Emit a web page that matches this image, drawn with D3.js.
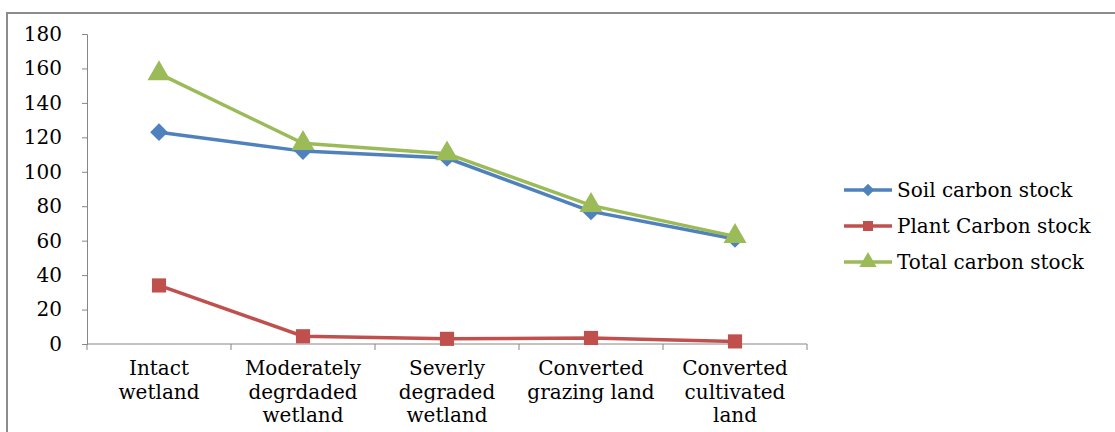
<!DOCTYPE html>
<html>
<head>
<meta charset="utf-8">
<script src="https://cdn.jsdelivr.net/npm/d3@7"></script>
<style>
  body { margin: 0; background: #fff; }
  text { font-family: "DejaVu Serif", "Liberation Serif", serif; }
</style>
</head>
<body>
<svg id="chart" width="1115" height="432"></svg>
<script>

// categories, shown as multi-line labels
var categories = [
    ["Intact", "wetland"],
    ["Moderately", "degrdaded", "wetland"],
    ["Severly", "degraded", "wetland"],
    ["Converted", "grazing land"],
    ["Converted", "cultivated", "land"]
];

var soil_carbon  = [123, 112, 108, 77, 61];
var plant_carbon = [34, 4.5, 3, 3.5, 1.5];
var total_carbon = [157, 116.5, 110.5, 80.5, 62.5];

var series_names = ["Soil carbon stock", "Plant Carbon stock", "Total carbon stock"];
var y_ticks = [0, 20, 40, 60, 80, 100, 120, 140, 160, 180];


function draw_chart( doc_id ){

    let svg = d3.select(doc_id);

    let series = [
        { name: series_names[0], values: soil_carbon,  color: "#4f81bd", symbol: d3.symbolDiamond2 },
        { name: series_names[1], values: plant_carbon, color: "#c0504d", symbol: d3.symbolSquare },
        { name: series_names[2], values: total_carbon, color: "#9bbb59", symbol: d3.symbolTriangle }
    ];

    // outer frame (runs off the right and bottom edges)
    svg.append("rect")
        .attr("x", 7).attr("y", 13)
        .attr("width", 1130).attr("height", 440)
        .attr("fill", "none")
        .attr("stroke", "#8c8c8c")
        .attr("stroke-width", 2);

    let x = d3.scaleBand()
        .domain(d3.range(categories.length))
        .range([87, 807]);

    let y = d3.scaleLinear()
        .domain([0, 180])
        .range([344, 34]);

    // y axis
    let yAxis = svg.append("g")
        .attr("transform", "translate(87,0)")
        .call(d3.axisLeft(y).tickValues(y_ticks).tickSize(5).tickPadding(20));
    yAxis.select(".domain").attr("stroke", "#868686");
    yAxis.selectAll(".tick line").attr("stroke", "#868686");
    yAxis.selectAll("text")
        .style("font-size", "20px")
        .attr("fill", "#000")
        .attr("font-family", "DejaVu Serif");

    // x axis
    let xAxis = svg.append("g")
        .attr("transform", "translate(0,344)");
    xAxis.append("line")
        .attr("x1", 87).attr("x2", 807)
        .attr("stroke", "#868686");
    let bounds = d3.range(categories.length + 1).map(function(i){
        return i < categories.length ? x(i) : x(i-1) + x.bandwidth();
    });
    xAxis.selectAll("line.tk")
        .data(bounds)
        .enter().append("line")
        .attr("class", "tk")
        .attr("x1", d => d).attr("x2", d => d)
        .attr("y1", 0).attr("y2", 6)
        .attr("stroke", "#868686");

    categories.forEach( function(lines, i){
        let t = xAxis.append("text")
            .attr("text-anchor", "middle")
            .attr("fill", "#000")
            .style("font-size", "20px");
        lines.forEach( function(l, j){
            t.append("tspan")
                .attr("x", x(i) + x.bandwidth()/2)
                .attr("y", 31 + j*23.5)
                .text(l);
        });
    });

    let line = d3.line()
        .x((d, i) => x(i) + x.bandwidth()/2)
        .y(d => y(d));

    series.forEach( function(s){
        svg.append("path")
            .datum(s.values)
            .attr("d", line)
            .attr("fill", "none")
            .attr("stroke", s.color)
            .attr("stroke-width", 3.5);
    });

    series.forEach( function(s){
        svg.append("g").selectAll("path")
            .data(s.values)
            .enter().append("path")
            .attr("transform", (d, i) => "translate(" + (x(i) + x.bandwidth()/2) + "," + y(d) + ")")
            .attr("d", d3.symbol().type(s.symbol).size(s.symbol == d3.symbolTriangle ? 230 : 200))
            .attr("fill", s.color);
    });

    // legend
    let lg = svg.append("g");
    series.forEach( function(s, i){
        let ly = 190 + i*36;
        lg.append("line")
            .attr("x1", 844).attr("x2", 892)
            .attr("y1", ly).attr("y2", ly)
            .attr("stroke", s.color)
            .attr("stroke-width", 3.5);
        lg.append("path")
            .attr("transform", "translate(868," + ly + ")")
            .attr("d", d3.symbol().type(s.symbol).size(s.symbol == d3.symbolTriangle ? 130 : 100))
            .attr("fill", s.color);
        lg.append("text")
            .attr("x", 897).attr("y", ly)
            .attr("dy", ".35em")
            .attr("fill", "#000")
            .style("font-size", "20px")
            .text(s.name);
    });
}

draw_chart("#chart");

</script>
</body>
</html>
